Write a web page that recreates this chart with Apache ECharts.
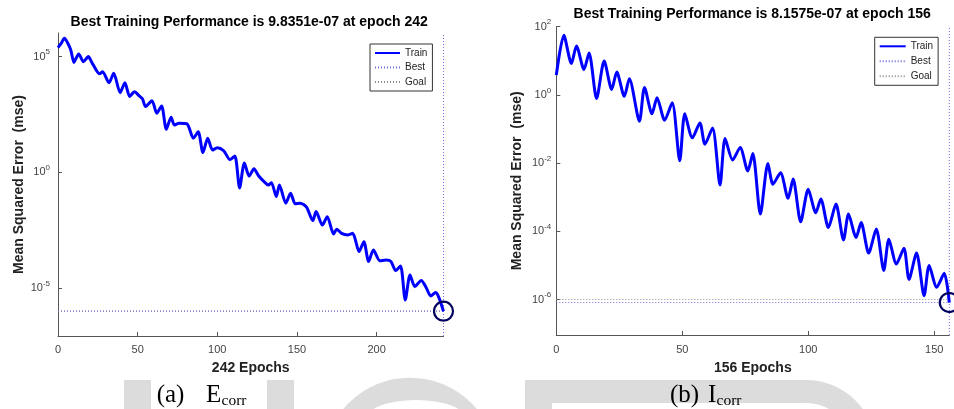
<!DOCTYPE html>
<html><head><meta charset="utf-8">
<script src="https://cdn.jsdelivr.net/npm/echarts@6/dist/echarts.min.js"></script>
<style>html,body{margin:0;padding:0;background:#fff}#c{width:954px;height:409px}</style>
</head><body><div id="c"></div>
<script>
// ---------- data ----------
const leftEpochs = [0,2,4,6,8,10,11,13,16,19,21,24,26,28,32,35,39,42,45,48,51,53,55,59,62,65,68,71,73,76,81,85,88,91,94,97,100,104,108,111,114,117,120,123,126,130,132,134,137,139,143,146,149,152,156,160,162,166,169,173,175,178,182,185,189,192,195,198,202,206,209,212,215,218,221,224,228,231,234,237,239,242];
const leftMse = [2.45e5,3.7e5,6.2e5,4.0e5,1.95e5,5.5e4,7.6e4,1.3e5,6.0e4,1.0e5,6.0e4,2.6e4,1.8e4,2.2e4,7.4e3,1.9e4,2.75e3,7.4e3,1.9e3,3.0e3,2.0e3,1.5e3,690,1230,355,740,72,240,110,132,123,29.5,56,7.1,29.5,9.1,11.5,8.5,3.5,5.0,0.21,2.5,0.68,1.4,0.69,0.355,0.28,0.355,0.089,0.28,0.046,0.123,0.043,0.046,0.031,0.0081,0.020,0.0052,0.012,0.00214,0.00347,0.00229,0.00195,0.00229,3.7e-4,1.0e-3,1.38e-4,4.4e-4,1.5e-4,1.6e-4,1.38e-4,5.6e-5,8.9e-5,3.0e-6,3.6e-5,1.15e-5,2.1e-5,1.07e-5,4.5e-6,6.3e-6,4.0e-6,9.8351e-7];
const leftBestEpoch = 242;
const leftBestMse = 9.8351e-7;

const rightEpochs = [0,3,6,8,11,13,16,19,22,24,27,29,33,35,38,40,43,46,49,51,54,57,59,62,65,67,70,73,76,78,81,84,86,89,92,94,97,100,103,105,108,111,114,116,119,121,124,127,130,132,135,138,140,143,146,148,151,154,156];
const rightMse = [3.8,56,8.3,27,5.6,17,0.785,9.8,1.45,4.7,0.91,3.0,0.17,1.66,0.28,0.83,0.18,0.59,0.0117,0.28,0.055,0.151,0.0355,0.107,0.00229,0.0525,0.0123,0.0288,0.0059,0.019,3.2e-4,0.0098,0.0024,0.0052,9.3e-4,0.0034,1.9e-4,0.0017,3.5e-4,8.9e-4,1.29e-4,6.3e-4,5.6e-5,3.2e-4,6.6e-5,1.8e-4,2.3e-5,1.17e-4,7.1e-6,5.9e-5,1.1e-5,3.2e-5,3.9e-6,2.3e-5,1.3e-6,1.0e-5,2.3e-6,5.9e-6,8.1575e-7];
const rightBestEpoch = 156;
const rightBestMse = 8.1575e-7;

const goalMse = 1e-6;
const leftYDecades = [-7.08, 6.02];
const rightYDecades = [-7.04, 2];
const leftYTicks = [-5, 0, 5];
const rightYTicks = [-6, -4, -2, 0, 2];
const leftXTicks = [0, 50, 100, 150, 200];
const rightXTicks = [0, 50, 100, 150];
const legendNames = ['Train', 'Best', 'Goal'];
const titles = ['Best Training Performance is 9.8351e-07 at epoch 242', 'Best Training Performance is 8.1575e-07 at epoch 156'];
const yName = 'Mean Squared Error  (mse)';

// ---------- build ----------
const FONT = '"Liberation Sans", Arial, Helvetica, sans-serif';
const SERIF = '"Liberation Serif", "Times New Roman", serif';
const L = Math.log10;
const AX = '#555', LBL = '#444';

const grids = [
  {left: 58, top: 33, width: 385.5, height: 303, outerBoundsMode: 'none', containLabel: false},
  {left: 556.3, top: 26.7, width: 393, height: 308.3, outerBoundsMode: 'none', containLabel: false}
];

function xAxis(i, max, ticks, gap, margin) {
  return {
    gridIndex: i, type: 'value', min: 0, max: max,
    axisLine: {show: true, onZero: false, lineStyle: {color: AX, width: 1}},
    axisTick: {show: true, inside: true, length: 4, customValues: ticks, lineStyle: {color: AX}},
    axisLabel: {customValues: ticks, margin: margin, fontSize: 11, color: LBL, fontFamily: FONT},
    splitLine: {show: false},
    name: max + ' Epochs', nameLocation: 'middle', nameGap: gap, nameMoveOverlap: false,
    nameTextStyle: {fontSize: 14, fontWeight: 'bold', color: '#222', fontFamily: FONT}
  };
}
function yAxis(i, ext, ticks, gap, margin) {
  return {
    gridIndex: i, type: 'value', min: ext[0], max: ext[1],
    axisLine: {show: true, onZero: false, lineStyle: {color: AX, width: 1}},
    axisTick: {show: true, inside: true, length: 4, customValues: ticks, lineStyle: {color: AX}},
    axisLabel: {
      customValues: ticks, margin: margin,
      formatter: v => '{b|10}{s|' + v + '}',
      rich: {
        b: {fontSize: 11, color: LBL, fontFamily: FONT},
        s: {fontSize: 8, color: LBL, fontFamily: FONT, padding: [0, 0, 9, 0]}
      }
    },
    splitLine: {show: false},
    name: yName, nameLocation: 'middle', nameGap: gap, nameRotate: 90, nameMoveOverlap: false,
    nameTextStyle: {fontSize: 14, fontWeight: 'bold', color: '#222', fontFamily: FONT}
  };
}

const BEST_C = '#6c6ce0', GOAL_C = '#8a8a8a';
function seriesFor(i, epochs, mse, bestEpoch, bestMse, ext) {
  const train = epochs.map((e, k) => [e, L(mse[k])]);
  return [
    {name: 'Goal', type: 'line', xAxisIndex: i, yAxisIndex: i, symbol: 'none', showSymbol: false, silent: true, z: 2,
     data: [[0, L(goalMse)], [bestEpoch, L(goalMse)]],
     itemStyle: {color: GOAL_C}, lineStyle: {color: GOAL_C, width: 1, type: [1, 2]}},
    {name: 'Best', type: 'line', xAxisIndex: i, yAxisIndex: i, symbol: 'none', showSymbol: false, silent: true, z: 2,
     data: [[0, L(bestMse)], [bestEpoch, L(bestMse)]],
     itemStyle: {color: BEST_C}, lineStyle: {color: BEST_C, width: 1, type: [1, 2]}},
    {name: 'Best', type: 'line', xAxisIndex: i, yAxisIndex: i, symbol: 'none', showSymbol: false, silent: true, z: 2,
     data: [[bestEpoch, ext[0]], [bestEpoch, ext[1]]],
     itemStyle: {color: BEST_C}, lineStyle: {color: BEST_C, width: 1, type: [1, 2]}},
    {name: 'Train', type: 'line', xAxisIndex: i, yAxisIndex: i, symbol: 'none', showSymbol: false, silent: true, z: 3,
     smooth: 0.25, clip: false, data: train,
     itemStyle: {color: '#0000ff'}, lineStyle: {color: '#0000ff', width: 3}},
    {name: 'bestPoint', type: 'scatter', xAxisIndex: i, yAxisIndex: i, silent: true, z: 4, clip: false,
     symbol: 'circle', symbolSize: 19, data: [[bestEpoch, L(bestMse)]],
     itemStyle: {color: 'rgba(0,0,0,0)', borderColor: '#00005e', borderWidth: 2.2, opacity: 1}}
  ];
}

function legend(left, top, iw, gap) {
  return {
    data: legendNames, orient: 'vertical', left: left, top: top, selectedMode: false,
    padding: [4, 5, 4, 4], itemWidth: iw, itemHeight: 10, itemGap: gap,
    itemStyle: {opacity: 0},
    backgroundColor: '#fff', borderColor: '#333', borderWidth: 1, borderRadius: 0,
    textStyle: {fontSize: 10, color: '#222', fontFamily: FONT, lineHeight: 10}
  };
}

const WM = '#dcdcdc';
const graphics = [
  // watermark
  {type: 'rect', z: -10, shape: {x: 124, y: 380, width: 27, height: 30}, style: {fill: WM}},
  {type: 'rect', z: -10, shape: {x: 267, y: 380, width: 27, height: 30}, style: {fill: WM}},
  {type: 'circle', z: -10, shape: {cx: 410, cy: 464.4, r: 86.7}, style: {fill: WM}},
  {type: 'ellipse', z: -9, shape: {cx: 416, cy: 419, rx: 50, ry: 19}, style: {fill: '#fff'}},
  {type: 'rect', z: -10, shape: {x: 525, y: 380, width: 27, height: 30}, style: {fill: WM}},
  {type: 'rect', z: -10, shape: {x: 552, y: 380, width: 254, height: 23}, style: {fill: WM}},
  {type: 'sector', z: -10, shape: {cx: 806, cy: 450, r0: 47, r: 70, startAngle: -Math.PI / 2, endAngle: 0, clockwise: true}, style: {fill: WM}},
  // titles
  {type: 'text', z: 10, x: 249.2, y: 21.7, style: {text: titles[0], font: 'bold 14px ' + FONT, fill: '#000', textAlign: 'center', textVerticalAlign: 'middle'}},
  {type: 'text', z: 10, x: 752.2, y: 14.3, style: {text: titles[1], font: 'bold 14px ' + FONT, fill: '#000', textAlign: 'center', textVerticalAlign: 'middle'}},
  // captions
  {type: 'text', z: 10, x: 156.7, y: 395.5, style: {text: '(a)', font: '25px ' + SERIF, fill: '#000', textVerticalAlign: 'middle'}},
  {type: 'text', z: 10, x: 206, y: 395.5, style: {text: 'E', font: '25px ' + SERIF, fill: '#000', textVerticalAlign: 'middle'}},
  {type: 'text', z: 10, x: 221.5, y: 400.5, style: {text: 'corr', font: '15.5px ' + SERIF, fill: '#000', textVerticalAlign: 'middle'}},
  {type: 'text', z: 10, x: 670, y: 395.5, style: {text: '(b)', font: '25px ' + SERIF, fill: '#000', textVerticalAlign: 'middle'}},
  {type: 'text', z: 10, x: 708, y: 395.5, style: {text: 'I', font: '25px ' + SERIF, fill: '#000', textVerticalAlign: 'middle'}},
  {type: 'text', z: 10, x: 716.5, y: 400.5, style: {text: 'corr', font: '15.5px ' + SERIF, fill: '#000', textVerticalAlign: 'middle'}}
];

const chart = echarts.init(document.getElementById('c'), null, {renderer: 'canvas'});
chart.setOption({
  backgroundColor: '#fff',
  animation: false,
  grid: grids,
  xAxis: [xAxis(0, leftBestEpoch, leftXTicks, 24.7, 8), xAxis(1, rightBestEpoch, rightXTicks, 25.7, 9)],
  yAxis: [yAxis(0, leftYDecades, leftYTicks, 31.7, 8), yAxis(1, rightYDecades, rightYTicks, 32.3, 5)],
  legend: [legend(370, 44, 25, 4.5), legend(874.7, 37.3, 26, 5)],
  series: [].concat(
    seriesFor(0, leftEpochs, leftMse, leftBestEpoch, leftBestMse, leftYDecades),
    seriesFor(1, rightEpochs, rightMse, rightBestEpoch, rightBestMse, rightYDecades)
  ),
  graphic: graphics
});
</script>
</body></html>
